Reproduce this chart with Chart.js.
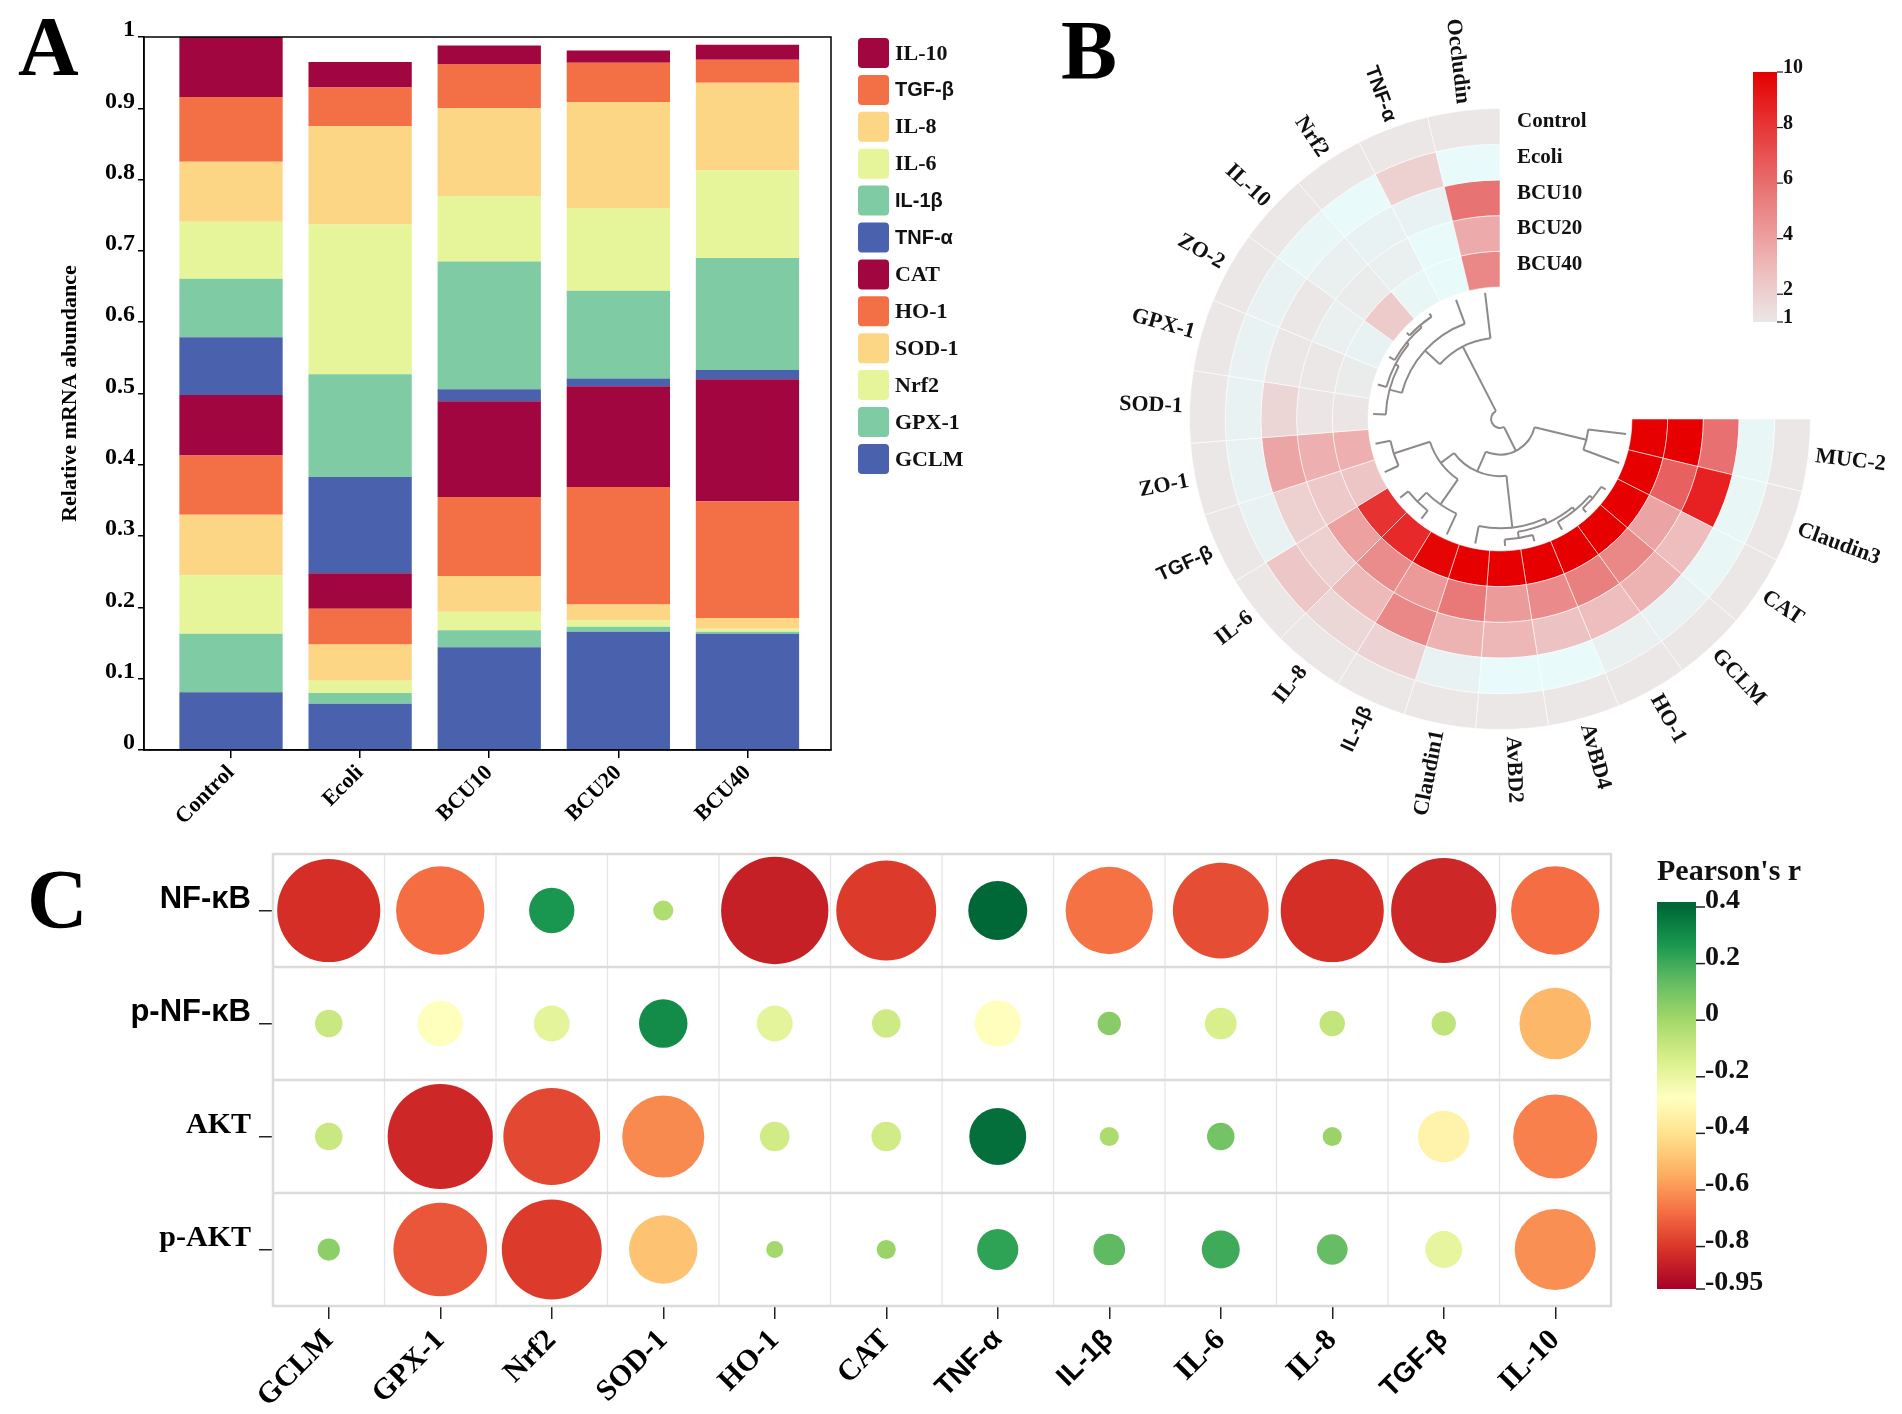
<!DOCTYPE html>
<html>
<head>
<meta charset="utf-8">
<script src="https://cdn.jsdelivr.net/npm/chart.js@4.4.1/dist/chart.umd.min.js"></script>
<style>
  html, body { margin: 0; padding: 0; background: #fff; }
  body { width: 1902px; height: 1414px; position: relative; overflow: hidden; }
  canvas { position: absolute; }
  .letter { position: absolute; font: bold 84px "Liberation Serif", serif; line-height: 1; color: #000; }
</style>
</head>
<body>
<canvas id="chartA" width="1060" height="840" style="left:0; top:0;"></canvas>
<canvas id="chartB" width="842" height="840" style="left:1060px; top:0;"></canvas>
<canvas id="chartC" width="1902" height="574" style="left:0; top:840px;"></canvas>
<div class="letter" style="left:18px; top:5px;">A</div>
<div class="letter" style="left:1061px; top:9px;">B</div>
<div class="letter" style="left:27px; top:858px;">C</div>

<script>
// ---- Panel A: relative mRNA abundance (stacked, bottom to top) ----
const groups = ['Control', 'Ecoli', 'BCU10', 'BCU20', 'BCU40'];
const GCLM = [0.081, 0.065, 0.144, 0.166, 0.163];
const GPX1 = [0.082, 0.015, 0.024, 0.007, 0.003];
const Nrf2 = [0.082, 0.017, 0.026, 0.009, 0.004];
const SOD1 = [0.085, 0.051, 0.050, 0.022, 0.015];
const HO1  = [0.083, 0.050, 0.111, 0.165, 0.164];
const CAT  = [0.085, 0.050, 0.134, 0.141, 0.171];
const TNFa = [0.081, 0.135, 0.017, 0.011, 0.013];
const IL1b = [0.082, 0.144, 0.179, 0.123, 0.157];
const IL6  = [0.080, 0.210, 0.092, 0.116, 0.123];
const IL8  = [0.084, 0.138, 0.123, 0.149, 0.123];
const TGFb = [0.091, 0.054, 0.062, 0.055, 0.032];
const IL10 = [0.084, 0.036, 0.026, 0.017, 0.021];
const stackGenes = ['GCLM', 'GPX-1', 'Nrf2', 'SOD-1', 'HO-1', 'CAT', 'TNF-α', 'IL-1β', 'IL-6', 'IL-8', 'TGF-β', 'IL-10'];
const stackValues = [GCLM, GPX1, Nrf2, SOD1, HO1, CAT, TNFa, IL1b, IL6, IL8, TGFb, IL10];
const stackPalette = ['#4A62AD', '#7FCBA3', '#E6F59A', '#FCD585', '#F36F45', '#A10640',
                      '#4A62AD', '#7FCBA3', '#E6F59A', '#FCD585', '#F36F45', '#A10640'];

// ---- Panel B: fold change heat rings (genes clockwise from 3 o'clock) ----
const ringGroups = ['Control', 'Ecoli', 'BCU10', 'BCU20', 'BCU40'];
const heatGenes = ['MUC-2', 'Claudin3', 'CAT', 'GCLM', 'HO-1', 'AvBD4', 'AvBD2', 'Claudin1', 'IL-1β', 'IL-8',
                   'IL-6', 'TGF-β', 'ZO-1', 'SOD-1', 'GPX-1', 'ZO-2', 'IL-10', 'Nrf2', 'TNF-α', 'Occludin'];
const heatControl = [1, 1, 1, 1, 1, 1, 1, 1, 1, 1, 1, 1, 1, 1, 1, 1, 1, 1, 1, 1];
const heatEcoli   = [0.6, 0.6, 0.6, 0.7, 0.8, 0.5, 0.5, 0.7, 1.9, 1.7, 2.4, 0.7, 0.7, 0.7, 0.7, 0.7, 0.6, 0.5, 2.0, 0.5];
const heatBCU10   = [5.9, 8.8, 2.8, 3.3, 2.8, 2.6, 3.1, 3.3, 5.0, 3.0, 2.0, 2.0, 3.8, 1.8, 1.0, 1.0, 0.8, 0.7, 0.7, 5.8];
const heatBCU20   = [10, 6.5, 3.9, 5.0, 5.3, 4.9, 4.2, 5.6, 4.3, 4.8, 4.0, 2.3, 3.4, 1.1, 1.0, 0.8, 0.9, 0.8, 0.5, 3.6];
const heatBCU40   = [10, 10, 10, 10, 10, 10, 10, 10, 9.8, 8.5, 8.2, 2.5, 3.4, 1.1, 0.9, 0.7, 2.2, 0.6, 0.5, 5.0];
const heatRings = [heatControl, heatEcoli, heatBCU10, heatBCU20, heatBCU40];
const heatTicks = [1, 2, 4, 6, 8, 10];
// gene clustering: [left, right, height], numbers are indexes into heatGenes
const geneTree = [[[0, 1, 0.3], [[[[[2, 3, 0.04], 4, 0.07], [5, 6, 0.05], 0.1], 7, 0.14], [[8, [9, 10, 0.08], 0.18], [11, 12, 0.12], 0.42], 0.55], 0.72],
                  [[[13, [14, [15, [16, 17, 0.03], 0.05], 0.07], 0.1], 18, 0.2], 19, 0.36], 0.93];

// ---- Panel C: Pearson's r ----
const corrGenes = ['GCLM', 'GPX-1', 'Nrf2', 'SOD-1', 'HO-1', 'CAT', 'TNF-α', 'IL-1β', 'IL-6', 'IL-8', 'TGF-β', 'IL-10'];
const corrRows = ['NF-κB', 'p-NF-κB', 'AKT', 'p-AKT'];
const rNFkB  = [-0.82, -0.68, 0.27, -0.03, -0.86, -0.79, 0.40, -0.67, -0.75, -0.82, -0.84, -0.68];
const rPNFkB = [-0.10, -0.27, -0.18, 0.30, -0.18, -0.11, -0.28, 0.06, -0.14, -0.08, -0.07, -0.52];
const rAKT   = [-0.10, -0.84, -0.76, -0.62, -0.12, -0.12, 0.38, -0.02, 0.10, 0.02, -0.33, -0.64];
const rPAKT  = [0.05, -0.73, -0.79, -0.49, 0.00, 0.02, 0.23, 0.14, 0.20, 0.13, -0.19, -0.61];
const corrValues = [rNFkB, rPNFkB, rAKT, rPAKT];
const corrTicks = [0.4, 0.2, 0, -0.2, -0.4, -0.6, -0.8, -0.95];

Chart.defaults.animation = false;
Chart.defaults.color = '#000';

const SERIF = '"Liberation Serif", "DejaVu Serif", serif';
const SANS = '"Liberation Sans", Arial, sans-serif';

// labels with greek letters were typeset in a sans face in the figure
function labelFont(text, size, sansSize) {
    const greek = /[α-ω]/.test(text || '');
    return { family: greek ? SANS : SERIF, size: greek ? (sansSize || size - 2) : size, weight: 'bold' };
}
function cssFont(f) {
    return `${f.weight} ${f.size}px ${f.family}`;
}
function mix(a, b, t) {
    const c = a.map((v, i) => Math.round(v + (b[i] - v) * t));
    return `rgb(${c[0]},${c[1]},${c[2]})`;
}
function hexRgb(h) {
    return [1, 3, 5].map(i => parseInt(h.substr(i, 2), 16));
}
// one tick per category index
function indexTicks(names) {
    return s => { s.ticks = names.map((_, i) => ({ value: i })); };
}

// heat colours: light cyan below 1, grey at 1 rising to red at 10
const heatStops = [[0.5, [232, 250, 250]], [1, [235, 231, 231]], [3, [238, 185, 185]], [6, [232, 110, 110]], [10, [230, 0, 0]]];
function heatColour(v) {
    if (v <= heatStops[0][0]) return mix(heatStops[0][1], heatStops[0][1], 0);
    for (let i = 1; i < heatStops.length; i++) {
        const [v1, c1] = heatStops[i];
        const [v0, c0] = heatStops[i - 1];
        if (v <= v1) return mix(c0, c1, (v - v0) / (v1 - v0));
    }
    return mix(heatStops[4][1], heatStops[4][1], 0);
}

// RdYlGn from -0.95 to 0.4
const rdylgn = ['#a50026', '#d73027', '#f46d43', '#fdae61', '#fee08b', '#ffffbf',
                '#d9ef8b', '#a6d96a', '#66bd63', '#1a9850', '#006837'].map(hexRgb);
function corrColour(v) {
    const lo = corrTicks[corrTicks.length - 1], hi = corrTicks[0];
    const t = Math.max(0, Math.min(1, (v - lo) / (hi - lo))) * (rdylgn.length - 1);
    const i = Math.min(Math.floor(t), rdylgn.length - 2);
    return mix(rdylgn[i], rdylgn[i + 1], t - i);
}

// ---------- Panel A ----------
const frameA = {
    id: 'frameA',
    afterDraw(chart) {
        const { ctx, chartArea: a } = chart;
        ctx.save();
        ctx.strokeStyle = '#000';
        ctx.lineWidth = 1.5;
        ctx.strokeRect(a.left, a.top, a.width, a.height);
        ctx.restore();
    }
};

const legendA = {
    id: 'legendA',
    afterDraw(chart) {
        const { ctx, chartArea } = chart;
        const sets = chart.data.datasets.slice().reverse();
        ctx.save();
        sets.forEach((ds, i) => {
            const x = chartArea.right + 27;
            const y = chartArea.top + 1 + i * 36.9;
            ctx.fillStyle = ds.backgroundColor;
            ctx.beginPath();
            if (ctx.roundRect) ctx.roundRect(x, y, 31, 30, 4); else ctx.rect(x, y, 31, 30);
            ctx.fill();
            ctx.font = cssFont(labelFont(ds.label, 22));
            ctx.fillStyle = '#111';
            ctx.textAlign = 'left';
            ctx.textBaseline = 'middle';
            ctx.fillText(ds.label, x + 37, y + 16);
        });
        ctx.restore();
    }
};

new Chart(document.getElementById('chartA'), {
    type: 'bar',
    data: {
        datasets: stackGenes.map((g, k) => ({
            label: g,
            data: stackValues[k].map((v, i) => ({ x: i, y: v })),
            backgroundColor: stackPalette[k],
            borderWidth: 0,
            barPercentage: 0.8,
            categoryPercentage: 1
        }))
    },
    options: {
        responsive: false,
        devicePixelRatio: 1,
        events: [],
        layout: { autoPadding: false, padding: { top: 37, right: 229, left: 0, bottom: 0 } },
        plugins: { legend: { display: false }, tooltip: { enabled: false } },
        scales: {
            x: {
                type: 'linear',
                stacked: true,
                offset: false,
                min: -0.674,
                max: 4.647,
                afterFit: s => { s.height = 90; },
                afterBuildTicks: indexTicks(groups),
                ticks: {
                    autoSkip: false,
                    minRotation: 45, maxRotation: 45, padding: 2,
                    font: { family: SERIF, size: 22, weight: 'bold' },
                    callback: v => groups[v] ?? ''
                },
                grid: { offset: false, drawOnChartArea: false, tickLength: 8, color: '#000', lineWidth: 1.5 },
                border: { color: '#000', width: 1.5 }
            },
            y: {
                stacked: true,
                min: 0,
                max: 1,
                afterFit: s => { s.width = 144; s.paddingTop = 0; s.paddingBottom = 0; },
                ticks: {
                    stepSize: 0.1, padding: 3, labelOffset: -7,
                    font: { family: SERIF, size: 24, weight: 'bold' },
                    callback: v => (v === 0 || v === 1) ? String(v) : v.toFixed(1)
                },
                grid: { drawOnChartArea: false, tickLength: 6, color: '#000', lineWidth: 1.5 },
                border: { color: '#000', width: 1.5 },
                title: {
                    display: true, text: 'Relative mRNA abundance',
                    font: { family: SERIF, size: 22, weight: 'bold' },
                    padding: { top: 57, bottom: 0 }
                }
            }
        }
    },
    plugins: [frameA, legendA]
});

// ---------- Panel B ----------
const ringLabels = {
    id: 'ringLabels',
    afterDraw(chart) {
        const ctx = chart.ctx;
        ctx.save();
        ctx.fillStyle = '#111';
        chart.getDatasetMeta(0).data.forEach((arc, i) => {
            const a = (arc.startAngle + arc.endAngle) / 2;
            const r = arc.outerRadius + 7;
            const right = Math.cos(a) >= 0;
            const name = chart.data.labels[i];
            ctx.save();
            ctx.translate(arc.x + Math.cos(a) * r, arc.y + Math.sin(a) * r);
            ctx.rotate(right ? a : a + Math.PI);
            ctx.font = cssFont(labelFont(name, 22));
            ctx.textAlign = right ? 'left' : 'right';
            ctx.textBaseline = 'middle';
            ctx.fillText(name, 0, 0);
            ctx.restore();
        });
        // group names at the open end of each ring
        ctx.font = cssFont(labelFont('', 21));
        ctx.textAlign = 'left';
        ctx.textBaseline = 'alphabetic';
        chart.data.datasets.forEach((ds, k) => {
            const arc = chart.getDatasetMeta(k).data[0];
            const mid = (arc.innerRadius + arc.outerRadius) / 2;
            ctx.fillText(ds.label, arc.x + 17, arc.y - mid + 1);
        });
        ctx.restore();
    }
};

const dendro = {
    id: 'dendro',
    afterDatasetsDraw(chart) {
        const arcs = chart.getDatasetMeta(chart.data.datasets.length - 1).data;
        const cx = arcs[0].x, cy = arcs[0].y;
        const leafR = arcs[0].innerRadius - 5;
        const ctx = chart.ctx;
        ctx.save();
        ctx.strokeStyle = '#8f8a8a';
        ctx.lineWidth = 2;
        const spoke = (ang, r0, r1) => {
            ctx.beginPath();
            ctx.moveTo(cx + Math.cos(ang) * r0, cy + Math.sin(ang) * r0);
            ctx.lineTo(cx + Math.cos(ang) * r1, cy + Math.sin(ang) * r1);
            ctx.stroke();
        };
        const place = node => {
            if (typeof node === 'number') {
                const a = arcs[node];
                return { ang: (a.startAngle + a.endAngle) / 2, r: leafR };
            }
            const pa = place(node[0]);
            const pb = place(node[1]);
            const r = leafR * (1 - node[2]);
            spoke(pa.ang, pa.r, r);
            spoke(pb.ang, pb.r, r);
            ctx.beginPath();
            ctx.arc(cx, cy, r, Math.min(pa.ang, pb.ang), Math.max(pa.ang, pb.ang));
            ctx.stroke();
            return { ang: (pa.ang + pb.ang) / 2, r: r };
        };
        place(geneTree);
        ctx.restore();
    }
};

const heatScale = {
    id: 'heatScale',
    afterDraw(chart) {
        const ctx = chart.ctx;
        const x0 = 693, w = 24, yTop = 72, yBot = 322;
        const lo = heatTicks[0], hi = heatTicks[heatTicks.length - 1];
        const yOf = v => yBot - (v - lo) / (hi - lo) * (yBot - yTop);
        ctx.save();
        const grad = ctx.createLinearGradient(0, yBot, 0, yTop);
        for (let s = 0; s <= 20; s++) {
            grad.addColorStop(s / 20, heatColour(lo + (hi - lo) * s / 20));
        }
        ctx.fillStyle = grad;
        ctx.fillRect(x0, yTop, w, yBot - yTop);
        ctx.strokeStyle = '#222';
        ctx.lineWidth = 1.2;
        ctx.fillStyle = '#111';
        ctx.font = cssFont(labelFont('', 20));
        ctx.textAlign = 'left';
        ctx.textBaseline = 'alphabetic';
        heatTicks.forEach(v => {
            const y = yOf(v);
            ctx.beginPath();
            ctx.moveTo(x0 + w, y);
            ctx.lineTo(x0 + w + 6, y);
            ctx.stroke();
            ctx.fillText(String(v), x0 + w + 6, y + 1);
        });
        ctx.restore();
    }
};

new Chart(document.getElementById('chartB'), {
    type: 'doughnut',
    data: {
        labels: heatGenes,
        datasets: ringGroups.map((g, k) => ({
            label: g,
            data: heatGenes.map(() => 1),
            backgroundColor: heatRings[k].map(heatColour),
            borderColor: 'rgba(255,255,255,0.55)',
            borderWidth: 1
        }))
    },
    options: {
        responsive: false,
        devicePixelRatio: 1,
        events: [],
        rotation: 90,
        circumference: 270,
        cutout: '42.5%',
        layout: { autoPadding: false, padding: { left: 129, right: 91, top: 108, bottom: 110 } },
        plugins: { legend: { display: false }, tooltip: { enabled: false } }
    },
    plugins: [dendro, ringLabels, heatScale]
});

// ---------- Panel C ----------
const cellGrid = {
    id: 'cellGrid',
    beforeDatasetsDraw(chart) {
        const { ctx, chartArea: a, scales: { x, y } } = chart;
        ctx.save();
        ctx.strokeStyle = '#e6e3e3';
        ctx.lineWidth = 1.3;
        for (let c = 0; c < corrGenes.length - 1; c++) {
            const px = x.getPixelForValue(c + 0.5);
            ctx.beginPath(); ctx.moveTo(px, a.top); ctx.lineTo(px, a.bottom); ctx.stroke();
        }
        ctx.strokeStyle = '#dddada';
        ctx.lineWidth = 2.5;
        for (let r = 0; r < corrRows.length - 1; r++) {
            const py = y.getPixelForValue(r + 0.5);
            ctx.beginPath(); ctx.moveTo(a.left, py); ctx.lineTo(a.right, py); ctx.stroke();
        }
        ctx.strokeRect(a.left, a.top, a.width, a.height);
        ctx.restore();
    }
};

const corrScale = {
    id: 'corrScale',
    afterDraw(chart) {
        const ctx = chart.ctx;
        const x0 = 1657, w = 39, yHi = 67, yLo = 449;
        const hi = corrTicks[0], lo = corrTicks[corrTicks.length - 1];
        const yOf = v => yLo - (v - lo) / (hi - lo) * (yLo - yHi);
        ctx.save();
        const grad = ctx.createLinearGradient(0, yLo, 0, yHi);
        for (let s = 0; s <= 20; s++) {
            grad.addColorStop(s / 20, corrColour(lo + (hi - lo) * s / 20));
        }
        ctx.fillStyle = grad;
        ctx.fillRect(x0, yHi - 5, w, yLo - yHi + 5);
        ctx.fillStyle = '#111';
        ctx.font = cssFont(labelFont('', 30));
        ctx.textAlign = 'left';
        ctx.textBaseline = 'alphabetic';
        ctx.fillText("Pearson's r", x0, 40);
        ctx.font = cssFont(labelFont('', 28));
        ctx.strokeStyle = '#222';
        ctx.lineWidth = 1.5;
        corrTicks.forEach(v => {
            const y = yOf(v);
            ctx.beginPath();
            ctx.moveTo(x0 + w, y);
            ctx.lineTo(x0 + w + 9, y);
            ctx.stroke();
            ctx.fillText(String(v), x0 + w + 9, y + 1);
        });
        ctx.restore();
    }
};

new Chart(document.getElementById('chartC'), {
    type: 'bubble',
    data: {
        datasets: corrValues.map((vals, row) => ({
            label: corrRows[row],
            data: vals.map((v, col) => ({ x: col, y: row, v: v })),
            backgroundColor: ctx => corrColour(ctx.raw.v),
            radius: ctx => 8.5 + 52.5 * Math.abs(ctx.raw.v),
            borderWidth: 0,
            clip: false
        }))
    },
    options: {
        responsive: false,
        devicePixelRatio: 1,
        events: [],
        layout: { autoPadding: false, padding: { top: 14, right: 291, left: 0, bottom: 0 } },
        plugins: { legend: { display: false }, tooltip: { enabled: false } },
        scales: {
            x: {
                type: 'linear',
                min: -0.5,
                max: 11.5,
                afterFit: s => { s.height = 108; s.paddingLeft = 0; s.paddingRight = 0; },
                afterBuildTicks: indexTicks(corrGenes),
                ticks: {
                    autoSkip: false,
                    minRotation: 45, maxRotation: 45, padding: 4,
                    font: ctx => labelFont(ctx.tick ? corrGenes[ctx.tick.value] : '', 30),
                    callback: v => corrGenes[v] ?? ''
                },
                grid: { drawOnChartArea: false, tickLength: 13, color: '#222', lineWidth: 1.5 },
                border: { display: false }
            },
            y: {
                type: 'linear',
                min: -0.5,
                max: 3.5,
                reverse: true,
                afterFit: s => { s.width = 273; s.paddingTop = 0; s.paddingBottom = 0; },
                afterBuildTicks: indexTicks(corrRows),
                ticks: {
                    autoSkip: false,
                    padding: 8, labelOffset: -11,
                    font: ctx => labelFont(ctx.tick ? corrRows[ctx.tick.value] : '', 30, 31),
                    callback: v => corrRows[v] ?? ''
                },
                grid: { drawOnChartArea: false, tickLength: 14, color: '#222', lineWidth: 1.5 },
                border: { display: false }
            }
        }
    },
    plugins: [cellGrid, corrScale]
});
</script>
</body>
</html>
